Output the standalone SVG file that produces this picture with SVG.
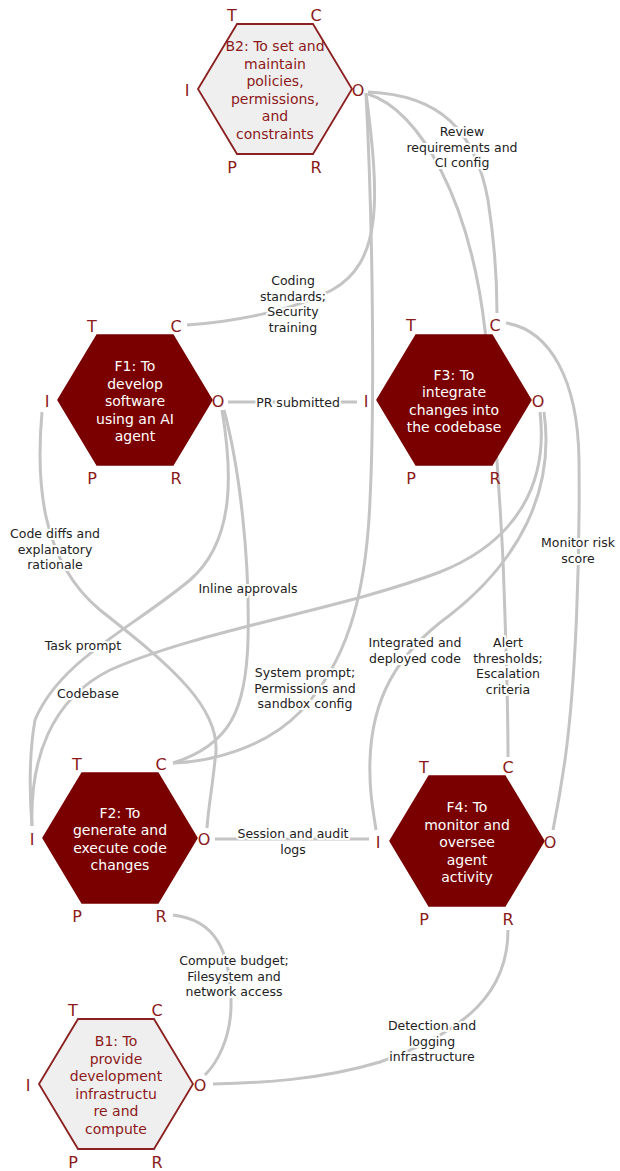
<svg xmlns="http://www.w3.org/2000/svg" width="620" height="1171" viewBox="0 0 620 1171">
<style>
.bg{fill:#ffffff}
.edge{fill:none;stroke:#c4c4c4;stroke-width:3}
.elab{font-family:"DejaVu Sans","Noto Sans",sans-serif;font-size:12.5px;fill:#222;text-anchor:middle;dominant-baseline:central;stroke:#ffffff;stroke-width:4;stroke-linejoin:round;paint-order:stroke}
.hexD{fill:#7a0000;stroke:#7a0000;stroke-width:1.5}
.hexL{fill:#efefef;stroke:#8b2020;stroke-width:1.8}
.ntD{font-family:"DejaVu Sans","Noto Sans",sans-serif;font-size:14px;fill:#ffffff;text-anchor:middle;dominant-baseline:central}
.ntL{font-family:"DejaVu Sans","Noto Sans",sans-serif;font-size:14px;fill:#8b1a1a;text-anchor:middle;dominant-baseline:central}
.asp{font-family:"DejaVu Sans","Noto Sans",sans-serif;font-size:16px;fill:#8b1a1a;text-anchor:middle;dominant-baseline:central}
</style>
<rect class="bg" x="0" y="0" width="620" height="1171"/>
<g id="connectors">
  <path class="edge" d="M366,93 C380,200 382,262 332,290 C290,312 230,322 187,325"/>
  <path class="edge" d="M366,93 C374,250 374,420 370,500 C366,600 345,665 300,712 C265,748 210,762 173,763"/>
  <path class="edge" d="M368,92 C440,95 475,130 488,200 C495,245 497,280 497,313"/>
  <path class="edge" d="M368,94 C420,110 470,200 485,330 C495,420 500,500 503,560 C506,640 508,700 508,757"/>
  <path class="edge" d="M228,402 L357,402"/>
  <path class="edge" d="M42,412 C36,480 40,560 100,610 C170,665 225,710 215,760 C212,790 208,810 207,828"/>
  <path class="edge" d="M222,410 C232,470 236,540 190,580 C130,630 60,660 35,720 C28,760 30,800 32,826"/>
  <path class="edge" d="M224,410 C240,470 250,560 248,640 C246,710 230,745 173,763"/>
  <path class="edge" d="M540,412 C548,480 520,540 440,572 C340,610 200,630 110,670 C50,700 30,760 32,826"/>
  <path class="edge" d="M544,412 C555,490 520,560 450,615 C395,655 372,700 370,760 C369,790 373,810 376,830"/>
  <path class="edge" d="M506,323 C550,330 578,380 579,460 C580,560 576,680 565,760 C560,795 556,815 553,830"/>
  <path class="edge" d="M215,839 L369,839"/>
  <path class="edge" d="M173,915 C215,920 230,950 231,1000 C232,1040 215,1065 205,1075"/>
  <path class="edge" d="M508,930 C508,990 470,1030 380,1062 C320,1080 260,1083 213,1084"/>
</g>
<g id="B2">
  <polygon class="hexL" points="198,89 237,24 313,24 352,89 313,154 237,154"/>
  <text class="ntL" x="275" y="46.25"><tspan x="275" dy="0">B2: To set and</tspan><tspan x="275" dy="17.5">maintain</tspan><tspan x="275" dy="17.5">policies,</tspan><tspan x="275" dy="17.5">permissions,</tspan><tspan x="275" dy="17.5">and</tspan><tspan x="275" dy="17.5">constraints</tspan></text>
  <text class="asp" x="232" y="15">T</text><text class="asp" x="316" y="15">C</text><text class="asp" x="187" y="90">I</text><text class="asp" x="358" y="90">O</text><text class="asp" x="232" y="167">P</text><text class="asp" x="316" y="167">R</text>
</g>
<g id="F1">
  <polygon class="hexD" points="58,400 97,335 173,335 212,400 173,465 97,465"/>
  <text class="ntD" x="135" y="366"><tspan x="135" dy="0">F1: To</tspan><tspan x="135" dy="17.5">develop</tspan><tspan x="135" dy="17.5">software</tspan><tspan x="135" dy="17.5">using an AI</tspan><tspan x="135" dy="17.5">agent</tspan></text>
  <text class="asp" x="92" y="326">T</text><text class="asp" x="176" y="326">C</text><text class="asp" x="47" y="401">I</text><text class="asp" x="218" y="401">O</text><text class="asp" x="92" y="478">P</text><text class="asp" x="176" y="478">R</text>
</g>
<g id="F3">
  <polygon class="hexD" points="377,400 416,335 492,335 531,400 492,465 416,465"/>
  <text class="ntD" x="454" y="374.75"><tspan x="454" dy="0">F3: To</tspan><tspan x="454" dy="17.5">integrate</tspan><tspan x="454" dy="17.5">changes into</tspan><tspan x="454" dy="17.5">the codebase</tspan></text>
  <text class="asp" x="411" y="325">T</text><text class="asp" x="495" y="325">C</text><text class="asp" x="366" y="401">I</text><text class="asp" x="538" y="401">O</text><text class="asp" x="411" y="478">P</text><text class="asp" x="495" y="478">R</text>
</g>
<g id="F2">
  <polygon class="hexD" points="43,838 82,773 158,773 197,838 158,903 82,903"/>
  <text class="ntD" x="120" y="812.75"><tspan x="120" dy="0">F2: To</tspan><tspan x="120" dy="17.5">generate and</tspan><tspan x="120" dy="17.5">execute code</tspan><tspan x="120" dy="17.5">changes</tspan></text>
  <text class="asp" x="77" y="764">T</text><text class="asp" x="161" y="764">C</text><text class="asp" x="32" y="839">I</text><text class="asp" x="204" y="839">O</text><text class="asp" x="77" y="916">P</text><text class="asp" x="161" y="916">R</text>
</g>
<g id="F4">
  <polygon class="hexD" points="390,841 429,776 505,776 544,841 505,906 429,906"/>
  <text class="ntD" x="467" y="807"><tspan x="467" dy="0">F4: To</tspan><tspan x="467" dy="17.5">monitor and</tspan><tspan x="467" dy="17.5">oversee</tspan><tspan x="467" dy="17.5">agent</tspan><tspan x="467" dy="17.5">activity</tspan></text>
  <text class="asp" x="424" y="767">T</text><text class="asp" x="508" y="767">C</text><text class="asp" x="378" y="842">I</text><text class="asp" x="550" y="842">O</text><text class="asp" x="424" y="919">P</text><text class="asp" x="508" y="919">R</text>
</g>
<g id="B1">
  <polygon class="hexL" points="39,1084 78,1019 154,1019 193,1084 154,1149 78,1149"/>
  <text class="ntL" x="116" y="1041"><tspan x="116" dy="0">B1: To</tspan><tspan x="116" dy="17.5">provide</tspan><tspan x="116" dy="17.5">development</tspan><tspan x="116" dy="17.5">infrastructu</tspan><tspan x="116" dy="17.5">re and</tspan><tspan x="116" dy="17.5">compute</tspan></text>
  <text class="asp" x="73" y="1010">T</text><text class="asp" x="157" y="1010">C</text><text class="asp" x="28" y="1085">I</text><text class="asp" x="200" y="1085">O</text><text class="asp" x="73" y="1162">P</text><text class="asp" x="157" y="1162">R</text>
</g>
<g id="edge-labels">
  <text class="elab" x="293" y="280"><tspan x="293" dy="0">Coding</tspan><tspan x="293" dy="15.5">standards;</tspan><tspan x="293" dy="15.5">Security</tspan><tspan x="293" dy="15.5">training</tspan></text>
  <text class="elab" x="305" y="672"><tspan x="305" dy="0">System prompt;</tspan><tspan x="305" dy="15.5">Permissions and</tspan><tspan x="305" dy="15.5">sandbox config</tspan></text>
  <text class="elab" x="462" y="131"><tspan x="462" dy="0">Review</tspan><tspan x="462" dy="15.5">requirements and</tspan><tspan x="462" dy="15.5">CI config</tspan></text>
  <text class="elab" x="508" y="642"><tspan x="508" dy="0">Alert</tspan><tspan x="508" dy="15.5">thresholds;</tspan><tspan x="508" dy="15.5">Escalation</tspan><tspan x="508" dy="15.5">criteria</tspan></text>
  <text class="elab" x="298" y="402">PR submitted</text>
  <text class="elab" x="55" y="533"><tspan x="55" dy="0">Code diffs and</tspan><tspan x="55" dy="15.5">explanatory</tspan><tspan x="55" dy="15.5">rationale</tspan></text>
  <text class="elab" x="83" y="645">Task prompt</text>
  <text class="elab" x="248" y="588">Inline approvals</text>
  <text class="elab" x="88" y="693">Codebase</text>
  <text class="elab" x="415" y="642"><tspan x="415" dy="0">Integrated and</tspan><tspan x="415" dy="15.5">deployed code</tspan></text>
  <text class="elab" x="578" y="542"><tspan x="578" dy="0">Monitor risk</tspan><tspan x="578" dy="15.5">score</tspan></text>
  <text class="elab" x="293" y="833"><tspan x="293" dy="0">Session and audit</tspan><tspan x="293" dy="15.5">logs</tspan></text>
  <text class="elab" x="234" y="960"><tspan x="234" dy="0">Compute budget;</tspan><tspan x="234" dy="15.5">Filesystem and</tspan><tspan x="234" dy="15.5">network access</tspan></text>
  <text class="elab" x="432" y="1025"><tspan x="432" dy="0">Detection and</tspan><tspan x="432" dy="15.5">logging</tspan><tspan x="432" dy="15.5">infrastructure</tspan></text>
</g>
</svg>
